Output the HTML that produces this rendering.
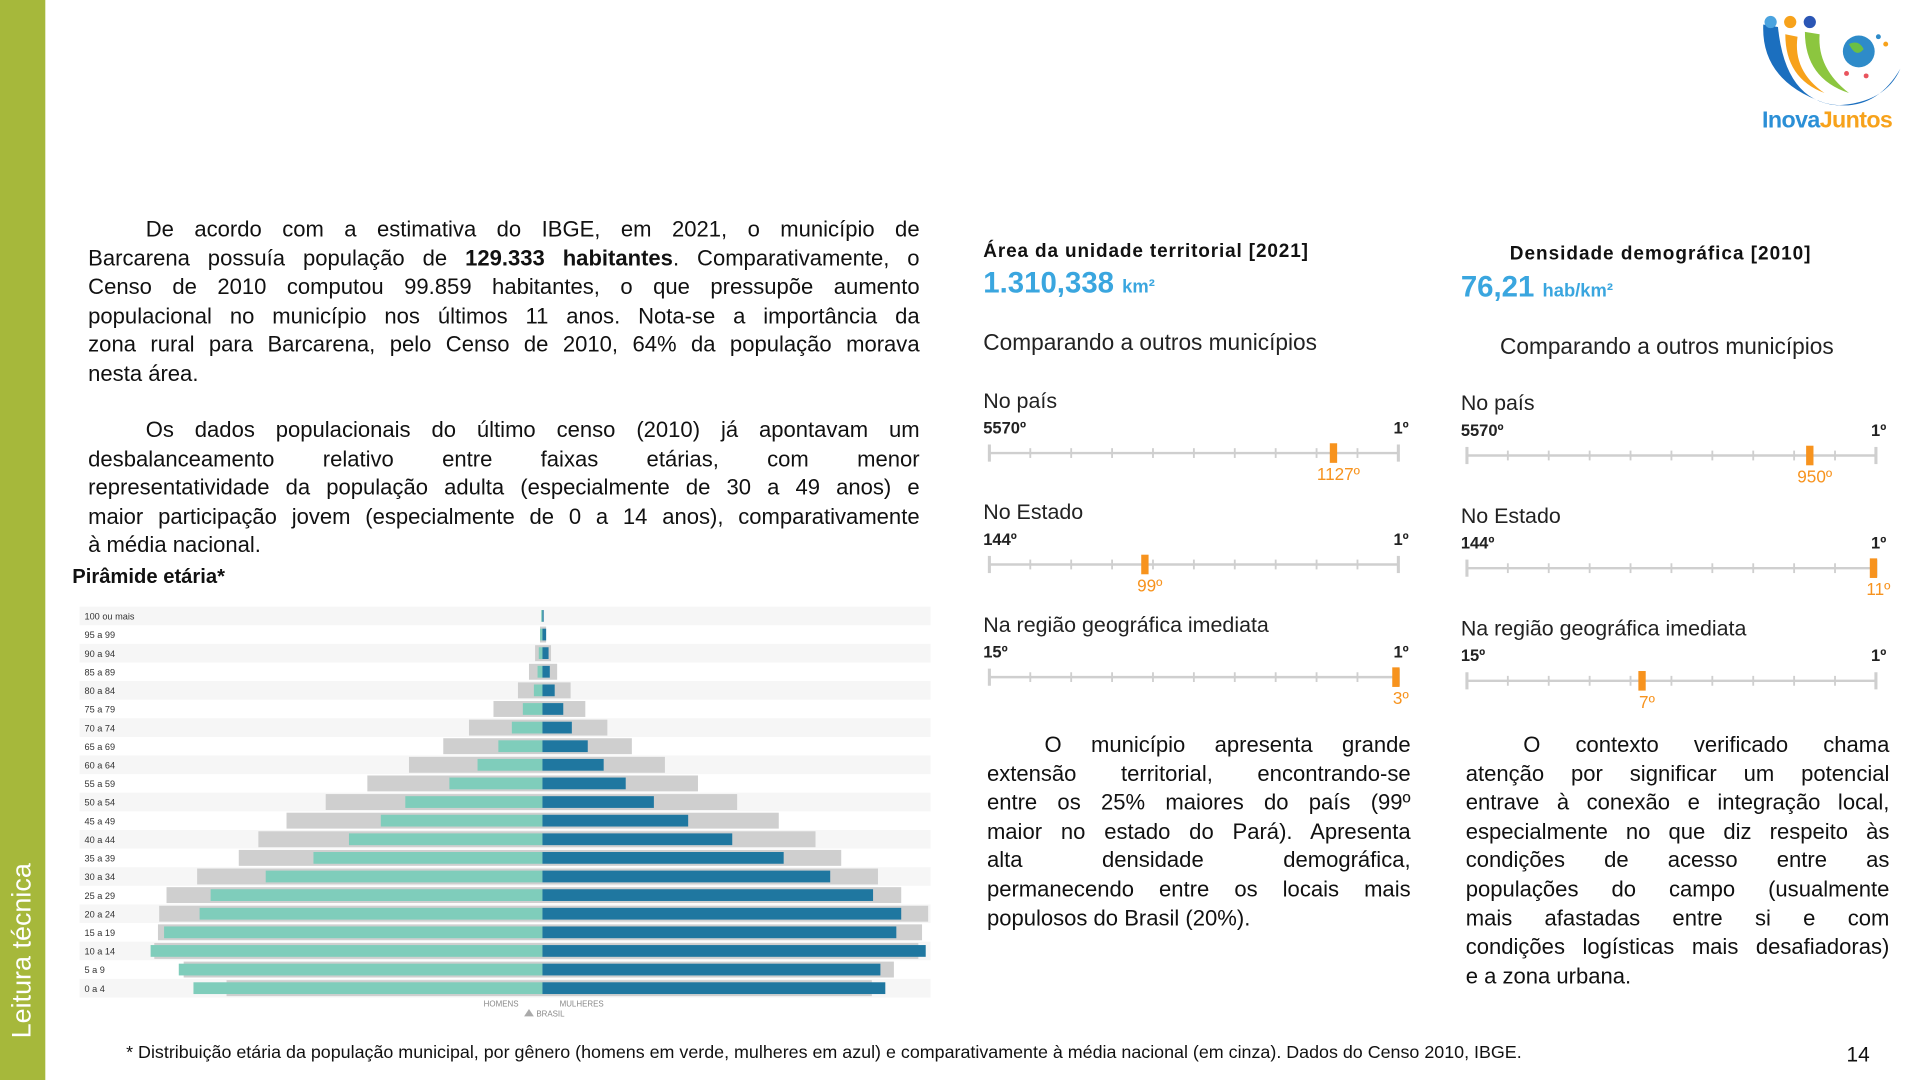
<!DOCTYPE html>
<html><head><meta charset="utf-8">
<style>
*{margin:0;padding:0;box-sizing:border-box}
html,body{width:1920px;height:1080px;overflow:hidden;background:#fff}
#w{position:absolute;left:0;top:0;width:1568px;height:882px;transform:scale(1.22449);transform-origin:0 0;font-family:"Liberation Sans",sans-serif;color:#111}
.a{position:absolute;white-space:nowrap}
.p div{height:23.6px;line-height:23.6px;font-size:18px;text-align:justify;text-align-last:justify;white-space:nowrap}
.p div.l{text-align-last:left}
.p div.i{padding-left:47px}
.s{font-size:16.5px;color:#222}
</style></head><body>
<div id="w">
<div class="a" style="left:0;top:0;width:37px;height:882px;background:#a6b83b"></div>
<div class="a" style="left:5px;top:848px;transform:rotate(-90deg);transform-origin:0 0;color:#fff;font-size:22px;line-height:26px">Leitura técnica</div>

<svg class="a" style="left:1430px;top:6px" width="130" height="105" viewBox="0 0 130 105">
<path d="M10 14 Q8 60 60 78 Q100 88 122 50 Q110 78 70 80 Q28 76 22 16 Z" fill="#1b6fbf"/>
<path d="M28 22 Q28 58 60 70 Q34 52 38 24 Z" fill="#f7a21b"/>
<path d="M44 20 Q44 58 80 70 Q54 50 56 22 Z" fill="#8cc63f"/>
<circle cx="16" cy="12" r="5" fill="#4aa3df"/><circle cx="32" cy="12" r="5" fill="#f7a21b"/><circle cx="48" cy="12" r="5" fill="#2b56b5"/>
<circle cx="88" cy="36" r="13" fill="#2e8bc9"/><path d="M80 30 q8 -4 12 4 q-6 8 -12 -4z" fill="#6bbf44"/>
<circle cx="104" cy="24" r="2" fill="#2e8bc9"/><circle cx="110" cy="30" r="2" fill="#f7a21b"/><circle cx="78" cy="54" r="2" fill="#e9545d"/><circle cx="94" cy="56" r="2" fill="#e9545d"/>
<text x="9" y="98" font-family="Liberation Sans" font-weight="bold" font-size="19" fill="#2b8fd6" letter-spacing="-0.5">Inova<tspan fill="#f7a21b">Juntos</tspan></text>
</svg>

<div class="a p" style="left:72px;top:176px;width:679px">
<div class="i">De acordo com a estimativa do IBGE, em 2021, o município de</div>
<div>Barcarena possuía população de <b>129.333 habitantes</b>. Comparativamente, o</div>
<div>Censo de 2010 computou 99.859 habitantes, o que pressupõe aumento</div>
<div>populacional no município nos últimos 11 anos. Nota-se a importância da</div>
<div>zona rural para Barcarena, pelo Censo de 2010, 64% da população morava</div>
<div class="l">nesta área.</div>
</div>
<div class="a p" style="left:72px;top:340px;width:679px">
<div class="i">Os dados populacionais do último censo (2010) já apontavam um</div>
<div>desbalanceamento relativo entre faixas etárias, com menor</div>
<div>representatividade da população adulta (especialmente de 30 a 49 anos) e</div>
<div>maior participação jovem (especialmente de 0 a 14 anos), comparativamente</div>
<div class="l">à média nacional.</div>
</div>
<div class="a" style="left:59px;top:462px;font-size:16.5px;font-weight:bold">Pirâmide etária*</div>

<svg class="a" style="left:0;top:0" width="800" height="840" viewBox="0 0 800 840" id="pyr"></svg>

<div class="a" style="left:803px;top:197px;font-size:15.5px;font-weight:bold;letter-spacing:0.7px">Área da unidade territorial [2021]</div>
<div class="a" style="left:803px;top:218px;font-size:24px;font-weight:bold;color:#3aa6df">1.310,338 <span style="font-size:15px">km²</span></div>
<div class="a s" style="left:803px;top:269px;font-size:18.5px">Comparando a outros municípios</div>
<div class="a" style="left:1233px;top:199px;font-size:15.5px;font-weight:bold;letter-spacing:0.8px">Densidade demográfica [2010]</div>
<div class="a" style="left:1193px;top:221px;font-size:24px;font-weight:bold;color:#3aa6df">76,21 <span style="font-size:15px">hab/km²</span></div>
<div class="a s" style="left:1225px;top:272px;font-size:18.5px">Comparando a outros municípios</div>

<svg class="a" style="left:0;top:0" width="1568" height="600" viewBox="0 0 1568 600" id="scales"></svg>

<div class="a p" style="left:806px;top:597px;width:346px">
<div class="i">O município apresenta grande</div>
<div>extensão territorial, encontrando-se</div>
<div>entre os 25% maiores do país (99º</div>
<div>maior no estado do Pará). Apresenta</div>
<div>alta densidade demográfica,</div>
<div>permanecendo entre os locais mais</div>
<div class="l">populosos do Brasil (20%).</div>
</div>
<div class="a p" style="left:1197px;top:597px;width:346px">
<div class="i">O contexto verificado chama</div>
<div>atenção por significar um potencial</div>
<div>entrave à conexão e integração local,</div>
<div>especialmente no que diz respeito às</div>
<div>condições de acesso entre as</div>
<div>populações do campo (usualmente</div>
<div>mais afastadas entre si e com</div>
<div>condições logísticas mais desafiadoras)</div>
<div class="l">e a zona urbana.</div>
</div>

<div class="a" style="left:103px;top:852px;font-size:14.6px">* Distribuição etária da população municipal, por gênero (homens em verde, mulheres em azul) e comparativamente à média nacional (em cinza). Dados do Censo 2010, IBGE.</div>
<div class="a" style="left:1508px;top:852px;font-size:17px">14</div>
</div>
<script>
(function(){
var NS="http://www.w3.org/2000/svg";
function el(p,t,a,txt){var e=document.createElementNS(NS,t);for(var k in a)e.setAttribute(k,a[k]);if(txt!=null)e.textContent=txt;p.appendChild(e);return e;}
var s=document.getElementById('pyr');
var labels=["100 ou mais","95 a 99","90 a 94","85 a 89","80 a 84","75 a 79","70 a 74","65 a 69","60 a 64","55 a 59","50 a 54","45 a 49","40 a 44","35 a 39","30 a 34","25 a 29","20 a 24","15 a 19","10 a 14","5 a 9","0 a 4"];
var gl=[443,441,437,432,423,403,383,362,334,300,266,234,211,195,161,136,130,129,126,150,185];
var gr=[443,446,450,455,466,478,496,516,543,570,602,636,666,687,717,736,758,753,750,730,712];
var gn=[442,441,440,439,436,427,418,407,390,367,331,311,285,256,217,172,163,134,123,146,158];
var bl=[444,446,448,449,453,460,467,480,493,511,534,562,598,640,678,713,736,732,756,719,723];
var c=443;
for(var i=0;i<21;i++){
 var y=503+i*15.2;
 if(i%2==0) el(s,'rect',{x:65,y:y-7.6,width:695,height:15.2,fill:'#f6f6f6'});
 el(s,'rect',{x:gl[i],y:y-6.5,width:gr[i]-gl[i],height:13,fill:'#cfcfcf'});
 el(s,'rect',{x:gn[i],y:y-4.8,width:c-gn[i],height:9.6,fill:'#7fcdbb'});
 el(s,'rect',{x:c,y:y-4.8,width:bl[i]-c,height:9.6,fill:'#1f77a0'});
 el(s,'text',{x:69,y:y+3,'font-size':7.5,'font-family':'Liberation Sans',fill:'#333'},labels[i]);
}
el(s,'text',{x:395,y:822,'font-size':6.5,'font-family':'Liberation Sans',fill:'#888'},'HOMENS');
el(s,'text',{x:457,y:822,'font-size':6.5,'font-family':'Liberation Sans',fill:'#888'},'MULHERES');
el(s,'path',{d:'M428 830 l4 -6 l4 6z',fill:'#aaa'});
el(s,'text',{x:438,y:830,'font-size':6.5,'font-family':'Liberation Sans',fill:'#888'},'BRASIL');

var t=document.getElementById('scales');
function scale(x0,y0,first,label,mx){
 el(t,'text',{x:x0,y:y0+6,'font-size':17.5,'font-family':'Liberation Sans',fill:'#222'},label[0]);
 el(t,'text',{x:x0,y:y0+27,'font-size':13.5,'font-weight':'bold','font-family':'Liberation Sans',fill:'#222'},first);
 el(t,'text',{x:x0+335,y:y0+27,'font-size':13.5,'font-weight':'bold','font-family':'Liberation Sans',fill:'#222'},'1º');
 var ly=y0+43, x1=x0+5, x2=x0+339;
 el(t,'line',{x1:x1,y1:ly,x2:x2,y2:ly,stroke:'#cfcfcf','stroke-width':2});
 for(var k=0;k<=10;k++){var xx=x1+(x2-x1)*k/10;var h=(k==0||k==10)?7:4;el(t,'line',{x1:xx,y1:ly-h,x2:xx,y2:ly+h,stroke:'#cfcfcf','stroke-width':(k==0||k==10)?2.5:1.5});}
 el(t,'rect',{x:mx-3,y:ly-8,width:6,height:16,fill:'#f7931e'});
 el(t,'text',{x:mx+4,y:ly+22,'font-size':14,'text-anchor':'middle','font-family':'Liberation Sans',fill:'#f7931e'},label[1]);
}
scale(803,327,'5570º',['No país','1127º'],1089);
scale(803,418,'144º',['No Estado','99º'],935);
scale(803,510,'15º',['Na região geográfica imediata','3º'],1140);
scale(1193,329,'5570º',['No país','950º'],1478);
scale(1193,421,'144º',['No Estado','11º'],1530);
scale(1193,513,'15º',['Na região geográfica imediata','7º'],1341);
})();
</script>
</body></html>
